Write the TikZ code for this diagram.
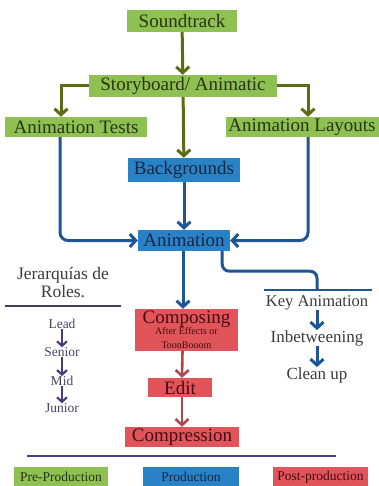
\documentclass[tikz,border=0pt]{standalone}
\usepackage{fontspec}
\setmainfont{Liberation Serif}
\usetikzlibrary{arrows.meta}
\definecolor{boxgreen}{RGB}{142,192,82}
\definecolor{boxblue}{RGB}{42,130,198}
\definecolor{boxred}{RGB}{224,84,90}
\definecolor{txtgreen}{RGB}{40,52,18}
\definecolor{txtblue}{RGB}{20,40,70}
\definecolor{txtred}{RGB}{70,12,18}
\definecolor{txtgray}{RGB}{58,58,62}
\definecolor{txtpurple}{RGB}{72,66,96}
\definecolor{arrgreen}{RGB}{90,108,20}
\definecolor{arrblue}{RGB}{30,85,150}
\definecolor{arrred}{RGB}{178,70,78}
\definecolor{arrpurple}{RGB}{74,58,128}
\definecolor{rulegray}{RGB}{62,64,92}
\newcommand{\smalltxt}{\fontsize{10}{11}\selectfont}

\begin{document}
\begin{tikzpicture}[x=1pt,y=-1pt,
    box/.style={inner sep=0pt, font=\fontsize{19}{20}\selectfont},
    greenbox/.style={box, fill=boxgreen, text=txtgreen},
    bluebox/.style={box, fill=boxblue, text=txtblue},
    redbox/.style={box, fill=boxred, text=txtred},
    legend/.style={inner sep=0pt, minimum height=20pt, font=\fontsize{13.5}{14}\selectfont},
    plain/.style={inner sep=0pt, text=txtgray, font=\fontsize{17}{18}\selectfont},
    role/.style={inner sep=0pt, text=txtpurple, font=\fontsize{13.5}{14}\selectfont},
    garrow/.style={draw=arrgreen, line width=3pt, -{Straight Barb[length=6pt,width=13pt]}},
    barrow/.style={draw=arrblue, line width=3pt, -{Straight Barb[length=6pt,width=13pt]}},
    rarrow/.style={draw=arrred, line width=2.6pt, -{Straight Barb[length=6pt,width=13pt]}},
    parrow/.style={draw=arrpurple, line width=2.2pt, -{Straight Barb[length=4.5pt,width=10pt]}}]
\useasboundingbox (0,0) rectangle (379,486);

\node[greenbox, minimum width=110pt, minimum height=22pt] (sound) at (182,21) {Soundtrack};
\node[greenbox, minimum width=188pt, minimum height=22pt] (story) at (183,86) {Storyboard/ Animatic};
\node[greenbox, minimum width=142pt, minimum height=20pt] (tests) at (76,127) {Animation Tests};
\node[greenbox, minimum width=153pt, minimum height=20pt] (layouts) at (302,127) {Animation Layouts};
\node[bluebox, minimum width=112pt, minimum height=24pt] (backs) at (184,170) {Backgrounds};
\node[bluebox, minimum width=92pt, minimum height=21pt] (anim) at (184,240.5) {Animation};
\node[redbox, minimum width=103pt, minimum height=42pt, align=center] (comp) at (186.5,330)
    {Composing\\[-9pt]\smalltxt After Effects or\\[-6pt]\smalltxt ToonBooom};
\node[redbox, minimum width=64pt, minimum height=19pt] (edit) at (180,387.5) {Edit};
\node[redbox, minimum width=114pt, minimum height=20pt] (compr) at (182,437) {Compression};

\draw[garrow] (sound) -- (story);
\draw[garrow] (story.west) -| ([xshift=-15pt]tests.north);
\draw[garrow] (story.east) -| ([xshift=6pt]layouts.north);
\draw[garrow] (story) -- (backs);
\draw[barrow, rounded corners=8pt] ([xshift=-16pt]tests.south) |- (anim.west);
\draw[barrow, rounded corners=8pt] ([xshift=6pt]layouts.south) |- (anim.east);
\draw[barrow] (backs) -- (anim);
\draw[barrow] ([xshift=-1pt]anim.south) -- ([xshift=-3.5pt]comp.north);
\draw[rarrow] ([xshift=-4pt]comp.south) -- ([xshift=2pt]edit.north);
\draw[rarrow] ([xshift=2pt]edit.south) -- (compr.north);

\coordinate (kleft) at (264,290);
\coordinate (kright) at (372,290);
\coordinate (kjoin) at (317,290);
\draw[arrblue, line width=2.6pt] (kleft) -- (kright);
\draw[arrblue, line width=3pt, rounded corners=7pt] ([xshift=-8pt]anim.south east) -- ++(0,20) -| (kjoin);
\node[plain, font=\fontsize{16.5}{18}\selectfont] (key) at (317,303) {Key Animation};
\node[plain] (inbet) at (317,338) {Inbetweening};
\node[plain] (clean) at (317,375) {Clean up};
\draw[barrow] (key.south) -- (inbet.north);
\draw[barrow] (inbet.south) -- (clean.north);

\node[plain, align=center, font=\fontsize{17.5}{18}\selectfont] (roles) at (63,283) {Jerarquías de\\Roles.};
\coordinate (rleft) at (5,306);
\coordinate (rright) at (121,306);
\draw[rulegray, line width=2pt] (rleft) -- (rright);
\node[role] (lead) at (62,324) {Lead};
\node[role] (senior) at (62,352) {Senior};
\node[role] (mid) at (62,381) {Mid};
\node[role] (junior) at (62,408) {Junior};
\draw[parrow] (lead) -- (senior);
\draw[parrow] (senior) -- (mid);
\draw[parrow] (mid) -- (junior);

\coordinate (bleft) at (27,456);
\coordinate (bright) at (336,456);
\draw[arrpurple, line width=2.6pt] (bleft) -- (bright);
\node[legend, fill=boxgreen, text=txtgreen, minimum width=94pt] (pre) at (61,477) {Pre-Production};
\node[legend, fill=boxblue, text=txtblue, minimum width=96pt] (prod) at (191,477) {Production};
\node[legend, fill=boxred, text=txtred, minimum width=95pt] (post) at (320.5,477) {Post-production};
\end{tikzpicture}
\end{document}
